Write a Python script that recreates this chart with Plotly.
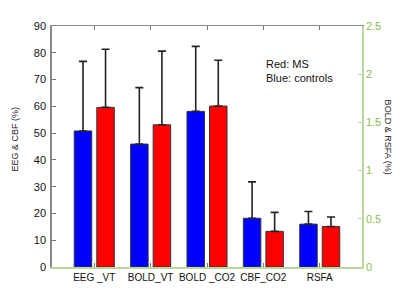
import plotly.graph_objects as go

categories = ["EEG _VT", "BOLD_VT", "BOLD _CO2", "CBF_CO2", "RSFA"]
controls = [50.8, 45.9, 58.1, 18.2, 16.0]
controls_err = [26.0, 21.1, 24.3, 13.6, 4.7]
ms = [59.6, 53.1, 60.1, 13.3, 15.1]
ms_err = [21.7, 27.5, 17.1, 7.1, 3.6]
left_ticks = [0, 10, 20, 30, 40, 50, 60, 70, 80, 90]
right_ticks = [0, 0.5, 1, 1.5, 2, 2.5]

xpos = list(range(1, len(categories) + 1))
font = "Liberation Sans, Arial, sans-serif"
green_line = "#b8d99e"
green_text = "#8cbc50"

# page offset (body margin) compensation
OFF = 8
W, H = 400, 300
l, r, t, b = 52 - OFF, 38 + OFF, 23 - OFF, 33 + OFF
pw, ph = W - l - r, H - t - b

def px(x, y):
    return (x - OFF - l) / pw, 1 - (y - OFF - t) / ph

fig = go.Figure()
fig.add_trace(go.Bar(
    x=xpos, y=controls, width=0.31, offset=-0.355,
    marker=dict(color="#0000ff", line=dict(color="#333333", width=1)),
    error_y=dict(type="data", array=controls_err, arrayminus=[0]*5, symmetric=False,
                 color="#222222", thickness=1.6, width=4),
    showlegend=False,
))
fig.add_trace(go.Bar(
    x=xpos, y=ms, width=0.31, offset=0.045,
    marker=dict(color="#ff0000", line=dict(color="#333333", width=1)),
    error_y=dict(type="data", array=ms_err, arrayminus=[0]*5, symmetric=False,
                 color="#222222", thickness=1.6, width=4),
    showlegend=False,
))
fig.add_trace(go.Scatter(x=[1], y=[0], yaxis="y2", mode="markers",
                         marker=dict(opacity=0), showlegend=False, hoverinfo="skip"))
fig.add_trace(go.Scatter(x=[1], y=[0], xaxis="x2", mode="markers",
                         marker=dict(opacity=0), showlegend=False, hoverinfo="skip"))

a1 = px(15, 138)
a2 = px(388, 135)
a3 = px(264, 69)

fig.update_layout(
    width=W, height=H,
    margin=dict(l=l, r=r, t=t, b=b),
    paper_bgcolor="white", plot_bgcolor="white",
    font=dict(family=font, size=11, color="#111111"),
    barmode="overlay",
    xaxis=dict(range=[0.25, 5.75], tickvals=xpos, ticktext=categories,
               ticks="inside", ticklen=4, tickcolor="#777777",
               showline=True, linecolor=green_line, linewidth=1.5,
               showgrid=False, zeroline=False, tickfont=dict(size=10, color="#111111")),
    xaxis2=dict(range=[0.25, 5.75], overlaying="x", side="top", tickvals=xpos,
                ticks="inside", ticklen=4, tickcolor="#777777", showticklabels=False,
                showline=True, linecolor="#888888", linewidth=1, showgrid=False, zeroline=False),
    yaxis=dict(range=[0, 90], tickvals=left_ticks, ticks="inside", ticklen=4,
               tickcolor="#777777", showline=True, linecolor="#888888", linewidth=1.5,
               showgrid=False, zeroline=False, tickfont=dict(size=11, color="#111111"),
               ticklabelstandoff=2),
    yaxis2=dict(range=[0, 2.5], tickvals=right_ticks, overlaying="y", side="right",
                ticks="inside", ticklen=4, tickcolor=green_line, showline=True,
                linecolor=green_line, linewidth=1.5, showgrid=False, zeroline=False,
                tickfont=dict(size=11, color=green_text)),
    annotations=[
        dict(text="EEG & CBF (%)", x=a1[0], y=a1[1], xref="paper", yref="paper",
             xanchor="center", yanchor="middle",
             showarrow=False, textangle=-90, font=dict(size=9, color="#222222")),
        dict(text="BOLD & RSFA (%)", x=a2[0], y=a2[1], xref="paper", yref="paper",
             xanchor="center", yanchor="middle",
             showarrow=False, textangle=90, font=dict(size=9, color="#222222")),
        dict(text="Red: MS<br>Blue: controls", x=a3[0], y=a3[1], xref="paper", yref="paper",
             showarrow=False, xanchor="left", yanchor="middle", align="left",
             font=dict(size=11, color="#111111")),
    ],
)

fig.write_html("out.html")
